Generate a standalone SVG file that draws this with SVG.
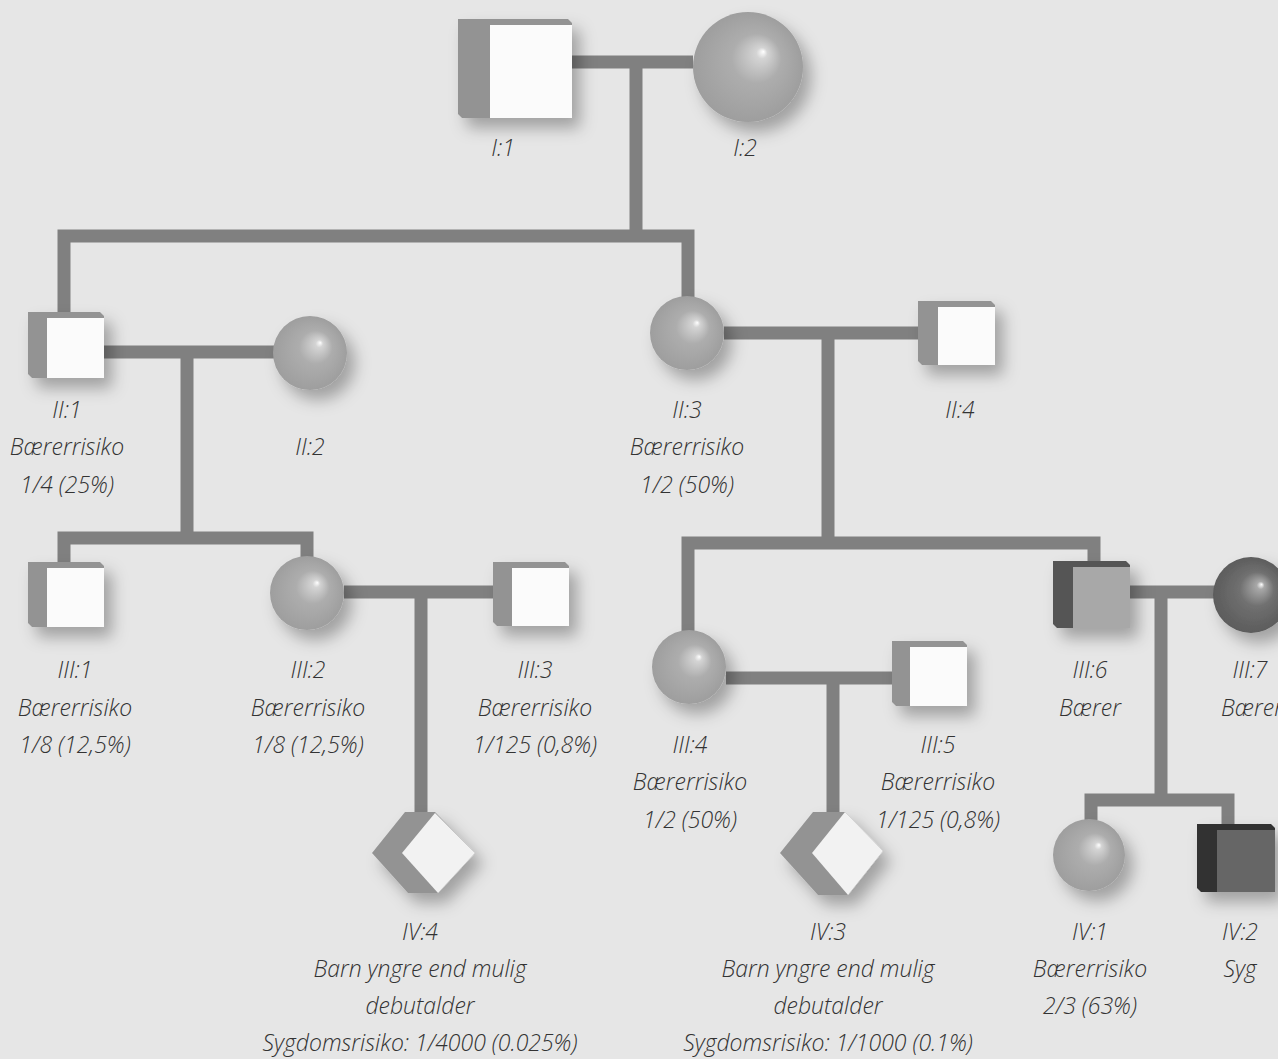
<svg xmlns="http://www.w3.org/2000/svg" width="1278" height="1059" viewBox="0 0 1278 1059">
<style>
.ln{fill:none;stroke:#808080;stroke-width:13;stroke-linejoin:miter}
.side{fill:#939393}
.front{fill:#fbfbfb}
.t{font-family:"Open Sans","Liberation Sans",sans-serif;font-style:italic;font-weight:300;font-size:23px;fill:#333;text-anchor:middle}
</style>
<defs>
<filter id="sh" x="-40%" y="-40%" width="190%" height="190%">
<feDropShadow dx="8" dy="10" stdDeviation="8" flood-color="#000" flood-opacity="0.3"/>
</filter>
<radialGradient id="ball" cx="0.5" cy="0.5" r="0.5" fx="0.64" fy="0.36">
<stop offset="0" stop-color="#ffffff"/>
<stop offset="0.1" stop-color="#d4d4d4"/>
<stop offset="0.45" stop-color="#adadad"/>
<stop offset="1" stop-color="#9e9e9e"/>
</radialGradient>
<radialGradient id="ballDark" cx="0.5" cy="0.5" r="0.5" fx="0.64" fy="0.36">
<stop offset="0" stop-color="#ffffff"/>
<stop offset="0.1" stop-color="#a8a8a8"/>
<stop offset="0.45" stop-color="#707070"/>
<stop offset="1" stop-color="#5c5c5c"/>
</radialGradient>
</defs>
<rect width="1278" height="1059" fill="#e6e6e6"/>

<g id="connectors">
<path class="ln" d="M572 62H693"/>
<path class="ln" d="M636 62V236"/>
<path class="ln" d="M64 315V236H688V298"/>
<path class="ln" d="M103 352H275"/>
<path class="ln" d="M187 352V538"/>
<path class="ln" d="M64 565V538H307V557"/>
<path class="ln" d="M344 592H493"/>
<path class="ln" d="M421 592V813"/>
<path class="ln" d="M724 333H918"/>
<path class="ln" d="M828 333V543"/>
<path class="ln" d="M688 631V543H1094V565"/>
<path class="ln" d="M726 678H892"/>
<path class="ln" d="M833 678V813"/>
<path class="ln" d="M1130 592H1215"/>
<path class="ln" d="M1161 592V800"/>
<path class="ln" d="M1091 820V800H1228V828"/>
</g>

<g id="I1">
<g filter="url(#sh)">
<polygon class="side" points="458,19 568,19 572,23 572,118 462,118 458,114"/>
<rect class="front" x="490" y="25" width="82" height="93"/>
</g>
<text class="t" x="503" y="156">I:1</text>
</g>

<g id="I2">
<circle cx="748" cy="67" r="55" fill="url(#ball)" filter="url(#sh)"/>
<text class="t" x="745" y="156">I:2</text>
</g>

<g id="II1">
<g filter="url(#sh)">
<polygon class="side" points="28,312 100,312 104,316 104,378 32,378 28,374"/>
<rect class="front" x="47" y="318" width="57" height="60"/>
</g>
<text class="t" x="67" y="418">II:1</text>
<text class="t" x="67" y="455">Bærerrisiko</text>
<text class="t" x="67" y="493">1/4 (25%)</text>
</g>

<g id="II2">
<circle cx="310" cy="353" r="37" fill="url(#ball)" filter="url(#sh)"/>
<text class="t" x="310" y="455">II:2</text>
</g>

<g id="II3">
<circle cx="687" cy="333" r="37" fill="url(#ball)" filter="url(#sh)"/>
<text class="t" x="687" y="418">II:3</text>
<text class="t" x="687" y="455">Bærerrisiko</text>
<text class="t" x="687" y="493">1/2 (50%)</text>
</g>

<g id="II4">
<g filter="url(#sh)">
<polygon class="side" points="918,301 991,301 995,305 995,365 922,365 918,361"/>
<rect class="front" x="938" y="307" width="57" height="58"/>
</g>
<text class="t" x="960" y="418">II:4</text>
</g>

<g id="III1">
<g filter="url(#sh)">
<polygon class="side" points="28,562 100,562 104,566 104,627 32,627 28,623"/>
<rect class="front" x="47" y="568" width="57" height="59"/>
</g>
<text class="t" x="75" y="678">III:1</text>
<text class="t" x="75" y="716">Bærerrisiko</text>
<text class="t" x="75" y="753">1/8 (12,5%)</text>
</g>

<g id="III2">
<circle cx="307" cy="593" r="37" fill="url(#ball)" filter="url(#sh)"/>
<text class="t" x="308" y="678">III:2</text>
<text class="t" x="308" y="716">Bærerrisiko</text>
<text class="t" x="308" y="753">1/8 (12,5%)</text>
</g>

<g id="III3">
<g filter="url(#sh)">
<polygon class="side" points="493,562 565,562 569,566 569,626 497,626 493,622"/>
<rect class="front" x="512" y="568" width="57" height="58"/>
</g>
<text class="t" x="535" y="678">III:3</text>
<text class="t" x="535" y="716">Bærerrisiko</text>
<text class="t" x="535" y="753">1/125 (0,8%)</text>
</g>

<g id="III4">
<circle cx="689" cy="667" r="37" fill="url(#ball)" filter="url(#sh)"/>
<text class="t" x="690" y="753">III:4</text>
<text class="t" x="690" y="790">Bærerrisiko</text>
<text class="t" x="690" y="828">1/2 (50%)</text>
</g>

<g id="III5">
<g filter="url(#sh)">
<polygon class="side" points="892,641 963,641 967,645 967,706 896,706 892,702"/>
<rect class="front" x="910" y="647" width="57" height="59"/>
</g>
<text class="t" x="938" y="753">III:5</text>
<text class="t" x="938" y="790">Bærerrisiko</text>
<text class="t" x="938" y="828">1/125 (0,8%)</text>
</g>

<g id="III6">
<g filter="url(#sh)">
<polygon points="1053,561 1126,561 1130,565 1130,628 1057,628 1053,624" fill="#555"/>
<rect x="1073" y="567" width="57" height="61" fill="#a8a8a8"/>
</g>
<text class="t" x="1090" y="678">III:6</text>
<text class="t" x="1090" y="716">Bærer</text>
</g>

<g id="III7">
<circle cx="1251" cy="595" r="38" fill="url(#ballDark)" filter="url(#sh)"/>
<text class="t" x="1250" y="678">III:7</text>
<text class="t" x="1252" y="716">Bærer</text>
</g>

<g id="IV4">
<g filter="url(#sh)">
<polygon class="side" points="405,812 435,812 475,853 438,893 408,893 372,853"/>
<polygon points="435,813 475,853 438,893 402,853" fill="#f2f2f2"/>
</g>
<text class="t" x="420" y="940">IV:4</text>
<text class="t" x="420" y="977">Barn yngre end mulig</text>
<text class="t" x="420" y="1014">debutalder</text>
<text class="t" x="420" y="1051">Sygdomsrisiko: 1/4000 (0.025%)</text>
</g>

<g id="IV3">
<g filter="url(#sh)">
<polygon class="side" points="813,812 845,812 883,851 848,895 818,895 780,853"/>
<polygon points="845,812 883,851 848,895 812,853" fill="#f2f2f2"/>
</g>
<text class="t" x="828" y="940">IV:3</text>
<text class="t" x="828" y="977">Barn yngre end mulig</text>
<text class="t" x="828" y="1014">debutalder</text>
<text class="t" x="828" y="1051">Sygdomsrisiko: 1/1000 (0.1%)</text>
</g>

<g id="IV1">
<circle cx="1089" cy="855" r="36" fill="url(#ball)" filter="url(#sh)"/>
<text class="t" x="1090" y="940">IV:1</text>
<text class="t" x="1090" y="977">Bærerrisiko</text>
<text class="t" x="1090" y="1014">2/3 (63%)</text>
</g>

<g id="IV2">
<g filter="url(#sh)">
<polygon points="1197,824 1271,824 1275,828 1275,892 1201,892 1197,888" fill="#333"/>
<rect x="1217" y="830" width="58" height="62" fill="#666"/>
</g>
<text class="t" x="1240" y="940">IV:2</text>
<text class="t" x="1240" y="977">Syg</text>
</g>
</svg>
